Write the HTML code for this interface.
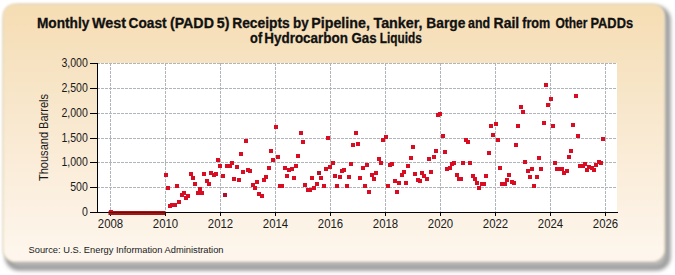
<!DOCTYPE html>
<html><head><meta charset="utf-8"><style>
html,body{margin:0;padding:0;background:#fff;}
body{width:675px;height:275px;overflow:hidden;position:relative;}
svg{position:absolute;left:0;top:0;}
.g{stroke:#b0b5b9;stroke-width:1;stroke-dasharray:3 1;}
.t{stroke:#000;stroke-width:1;}
.tl{font-family:"Liberation Sans",sans-serif;fill:#1a1a1a;}
.ti{font-family:"Liberation Sans",sans-serif;font-weight:bold;fill:#111;}
</style></head><body>
<svg width="675" height="275" viewBox="0 0 675 275">
<defs>
<linearGradient id="bg" x1="0" y1="0" x2="0" y2="1">
<stop offset="0" stop-color="#f5ddb3"/>
<stop offset="0.5" stop-color="#f9e9d2"/>
<stop offset="1" stop-color="#fef7ee"/>
</linearGradient>
<filter id="sh" x="-5%" y="-5%" width="110%" height="110%"><feGaussianBlur stdDeviation="2.3"/></filter>
<filter id="bl" x="-5%" y="-5%" width="110%" height="110%"><feGaussianBlur stdDeviation="1"/></filter>
</defs>
<rect x="7" y="8" width="661.5" height="260.5" rx="12" ry="12" fill="#b8b8b8" stroke="#848484" stroke-width="3.4" filter="url(#sh)"/>
<rect x="3" y="4" width="661.5" height="257.5" rx="12" ry="12" fill="url(#bg)" stroke="#e8dcc0" stroke-width="1.2" filter="url(#bl)"/>
<rect x="98" y="63" width="519" height="150" fill="#fff"/>
<line x1="97" y1="63.5" x2="617" y2="63.5" class="g"/>
<line x1="97" y1="88.5" x2="617" y2="88.5" class="g"/>
<line x1="97" y1="113.5" x2="617" y2="113.5" class="g"/>
<line x1="97" y1="138.5" x2="617" y2="138.5" class="g"/>
<line x1="97" y1="162.5" x2="617" y2="162.5" class="g"/>
<line x1="97" y1="187.5" x2="617" y2="187.5" class="g"/>
<line x1="110.5" y1="63" x2="110.5" y2="212" class="g"/>
<line x1="165.5" y1="63" x2="165.5" y2="212" class="g"/>
<line x1="220.5" y1="63" x2="220.5" y2="212" class="g"/>
<line x1="275.5" y1="63" x2="275.5" y2="212" class="g"/>
<line x1="330.5" y1="63" x2="330.5" y2="212" class="g"/>
<line x1="385.5" y1="63" x2="385.5" y2="212" class="g"/>
<line x1="440.5" y1="63" x2="440.5" y2="212" class="g"/>
<line x1="495.5" y1="63" x2="495.5" y2="212" class="g"/>
<line x1="550.5" y1="63" x2="550.5" y2="212" class="g"/>
<line x1="605.5" y1="63" x2="605.5" y2="212" class="g"/>
<line x1="97.5" y1="63" x2="97.5" y2="213" class="t"/>
<line x1="97" y1="212.5" x2="618" y2="212.5" class="t"/>
<line x1="90" y1="63.5" x2="97" y2="63.5" class="t"/>
<line x1="90" y1="88.5" x2="97" y2="88.5" class="t"/>
<line x1="90" y1="113.5" x2="97" y2="113.5" class="t"/>
<line x1="90" y1="138.5" x2="97" y2="138.5" class="t"/>
<line x1="90" y1="162.5" x2="97" y2="162.5" class="t"/>
<line x1="90" y1="187.5" x2="97" y2="187.5" class="t"/>
<line x1="90" y1="212.5" x2="97" y2="212.5" class="t"/>
<line x1="110.5" y1="212" x2="110.5" y2="216" class="t"/>
<line x1="165.5" y1="212" x2="165.5" y2="216" class="t"/>
<line x1="220.5" y1="212" x2="220.5" y2="216" class="t"/>
<line x1="275.5" y1="212" x2="275.5" y2="216" class="t"/>
<line x1="330.5" y1="212" x2="330.5" y2="216" class="t"/>
<line x1="385.5" y1="212" x2="385.5" y2="216" class="t"/>
<line x1="440.5" y1="212" x2="440.5" y2="216" class="t"/>
<line x1="495.5" y1="212" x2="495.5" y2="216" class="t"/>
<line x1="550.5" y1="212" x2="550.5" y2="216" class="t"/>
<line x1="605.5" y1="212" x2="605.5" y2="216" class="t"/>
<text transform="translate(87.8,66.5) scale(0.88,1)" text-anchor="end" class="tl" font-size="12">3,000</text>
<text transform="translate(87.8,91.5) scale(0.88,1)" text-anchor="end" class="tl" font-size="12">2,500</text>
<text transform="translate(87.8,116.5) scale(0.88,1)" text-anchor="end" class="tl" font-size="12">2,000</text>
<text transform="translate(87.8,141.5) scale(0.88,1)" text-anchor="end" class="tl" font-size="12">1,500</text>
<text transform="translate(87.8,165.5) scale(0.88,1)" text-anchor="end" class="tl" font-size="12">1,000</text>
<text transform="translate(87.8,190.5) scale(0.88,1)" text-anchor="end" class="tl" font-size="12">500</text>
<text transform="translate(87.8,215.5) scale(0.88,1)" text-anchor="end" class="tl" font-size="12">0</text>
<text transform="translate(110.5,228) scale(0.95,1)" text-anchor="middle" class="tl" font-size="12">2008</text>
<text transform="translate(165.5,228) scale(0.95,1)" text-anchor="middle" class="tl" font-size="12">2010</text>
<text transform="translate(220.5,228) scale(0.95,1)" text-anchor="middle" class="tl" font-size="12">2012</text>
<text transform="translate(275.5,228) scale(0.95,1)" text-anchor="middle" class="tl" font-size="12">2014</text>
<text transform="translate(330.5,228) scale(0.95,1)" text-anchor="middle" class="tl" font-size="12">2016</text>
<text transform="translate(385.5,228) scale(0.95,1)" text-anchor="middle" class="tl" font-size="12">2018</text>
<text transform="translate(440.5,228) scale(0.95,1)" text-anchor="middle" class="tl" font-size="12">2020</text>
<text transform="translate(495.5,228) scale(0.95,1)" text-anchor="middle" class="tl" font-size="12">2022</text>
<text transform="translate(550.5,228) scale(0.95,1)" text-anchor="middle" class="tl" font-size="12">2024</text>
<text transform="translate(605.5,228) scale(0.95,1)" text-anchor="middle" class="tl" font-size="12">2026</text>
<text x="36.9" y="28.4" class="ti" font-size="14" stroke="#111" stroke-width="0.3" textLength="52.52" lengthAdjust="spacingAndGlyphs">Monthly</text>
<text x="92.1" y="28.4" class="ti" font-size="14" stroke="#111" stroke-width="0.3" textLength="34.01" lengthAdjust="spacingAndGlyphs">West</text>
<text x="128.6" y="28.4" class="ti" font-size="14" stroke="#111" stroke-width="0.3" textLength="38.01" lengthAdjust="spacingAndGlyphs">Coast</text>
<text x="169.9" y="28.4" class="ti" font-size="14" stroke="#111" stroke-width="0.3" textLength="44.06" lengthAdjust="spacingAndGlyphs">(PADD</text>
<text x="216.8" y="28.4" class="ti" font-size="14" stroke="#111" stroke-width="0.3" textLength="12.66" lengthAdjust="spacingAndGlyphs">5)</text>
<text x="232.2" y="28.4" class="ti" font-size="14" stroke="#111" stroke-width="0.3" textLength="57.54" lengthAdjust="spacingAndGlyphs">Receipts</text>
<text x="293.1" y="28.4" class="ti" font-size="14" stroke="#111" stroke-width="0.3" textLength="15.65" lengthAdjust="spacingAndGlyphs">by</text>
<text x="311.3" y="28.4" class="ti" font-size="14" stroke="#111" stroke-width="0.3" textLength="58.56" lengthAdjust="spacingAndGlyphs">Pipeline,</text>
<text x="373.5" y="28.4" class="ti" font-size="14" stroke="#111" stroke-width="0.3" textLength="49.01" lengthAdjust="spacingAndGlyphs">Tanker,</text>
<text x="426.3" y="28.4" class="ti" font-size="14" stroke="#111" stroke-width="0.3" textLength="39.07" lengthAdjust="spacingAndGlyphs">Barge</text>
<text x="468.0" y="28.4" class="ti" font-size="14" stroke="#111" stroke-width="0.3" textLength="22.02" lengthAdjust="spacingAndGlyphs">and</text>
<text x="493.6" y="28.4" class="ti" font-size="14" stroke="#111" stroke-width="0.3" textLength="25.68" lengthAdjust="spacingAndGlyphs">Rail</text>
<text x="522.2" y="28.4" class="ti" font-size="14" stroke="#111" stroke-width="0.3" textLength="28.07" lengthAdjust="spacingAndGlyphs">from</text>
<text x="555.4" y="28.4" class="ti" font-size="14" stroke="#111" stroke-width="0.3" textLength="32.01" lengthAdjust="spacingAndGlyphs">Other</text>
<text x="590.5" y="28.4" class="ti" font-size="14" stroke="#111" stroke-width="0.3" textLength="42.55" lengthAdjust="spacingAndGlyphs">PADDs</text>
<text x="250.1" y="43" class="ti" font-size="14" stroke="#111" stroke-width="0.3" textLength="12.04" lengthAdjust="spacingAndGlyphs">of</text>
<text x="264.3" y="43" class="ti" font-size="14" stroke="#111" stroke-width="0.3" textLength="83.54" lengthAdjust="spacingAndGlyphs">Hydrocarbon</text>
<text x="351.5" y="43" class="ti" font-size="14" stroke="#111" stroke-width="0.3" textLength="25.02" lengthAdjust="spacingAndGlyphs">Gas</text>
<text x="379.8" y="43" class="ti" font-size="14" stroke="#111" stroke-width="0.3" textLength="42.07" lengthAdjust="spacingAndGlyphs">Liquids</text>
<text transform="translate(48,137.5) rotate(-90)" text-anchor="middle" class="tl" font-size="12" textLength="87" lengthAdjust="spacingAndGlyphs">Thousand Barrels</text>
<text x="28.5" y="253.3" class="tl" font-size="9.6" textLength="195" lengthAdjust="spacingAndGlyphs">Source: U.S. Energy Information Administration</text>
<rect x="108.5" y="211" width="56.8" height="4" fill="#a81414"/>
<line x1="108.5" y1="212.5" x2="165.3" y2="212.5" stroke="#000" stroke-opacity="0.4"/>
<rect x="109" y="210" width="4" height="1.5" fill="#c81020"/>
<g fill="#d80c22" shape-rendering="crispEdges">
<rect x="164" y="173" width="4" height="4"/>
<rect x="166" y="186" width="4" height="4"/>
<rect x="168" y="204" width="4" height="4"/>
<rect x="170" y="203" width="4" height="4"/>
<rect x="173" y="203" width="4" height="4"/>
<rect x="175" y="184" width="4" height="4"/>
<rect x="177" y="200" width="4" height="4"/>
<rect x="180" y="193" width="4" height="4"/>
<rect x="182" y="191" width="4" height="4"/>
<rect x="184" y="196" width="4" height="4"/>
<rect x="186" y="194" width="4" height="4"/>
<rect x="189" y="172" width="4" height="4"/>
<rect x="191" y="176" width="4" height="4"/>
<rect x="193" y="182" width="4" height="4"/>
<rect x="196" y="191" width="4" height="4"/>
<rect x="198" y="187" width="4" height="4"/>
<rect x="200" y="191" width="4" height="4"/>
<rect x="202" y="172" width="4" height="4"/>
<rect x="205" y="179" width="4" height="4"/>
<rect x="207" y="182" width="4" height="4"/>
<rect x="209" y="171" width="4" height="4"/>
<rect x="212" y="173" width="4" height="4"/>
<rect x="214" y="172" width="4" height="4"/>
<rect x="216" y="158" width="4" height="4"/>
<rect x="218" y="164" width="4" height="4"/>
<rect x="221" y="174" width="4" height="4"/>
<rect x="223" y="193" width="4" height="4" fill="#b01028"/>
<rect x="225" y="164" width="4" height="4"/>
<rect x="228" y="164" width="4" height="4"/>
<rect x="230" y="161" width="4" height="4"/>
<rect x="232" y="177" width="4" height="4"/>
<rect x="235" y="165" width="4" height="4"/>
<rect x="237" y="178" width="4" height="4"/>
<rect x="239" y="152" width="4" height="4"/>
<rect x="241" y="170" width="4" height="4"/>
<rect x="244" y="139" width="4" height="4"/>
<rect x="246" y="168" width="4" height="4"/>
<rect x="248" y="169" width="4" height="4"/>
<rect x="251" y="183" width="4" height="4"/>
<rect x="253" y="186" width="4" height="4"/>
<rect x="255" y="180" width="4" height="4"/>
<rect x="257" y="192" width="4" height="4"/>
<rect x="260" y="194" width="4" height="4"/>
<rect x="262" y="178" width="4" height="4"/>
<rect x="264" y="175" width="4" height="4"/>
<rect x="267" y="166" width="4" height="4"/>
<rect x="269" y="149" width="4" height="4"/>
<rect x="271" y="158" width="4" height="4"/>
<rect x="274" y="125" width="4" height="4"/>
<rect x="276" y="155" width="4" height="4"/>
<rect x="278" y="184" width="4" height="4"/>
<rect x="280" y="184" width="4" height="4"/>
<rect x="283" y="166" width="4" height="4"/>
<rect x="285" y="174" width="4" height="4"/>
<rect x="287" y="168" width="4" height="4"/>
<rect x="290" y="167" width="4" height="4"/>
<rect x="292" y="176" width="4" height="4"/>
<rect x="294" y="164" width="4" height="4"/>
<rect x="296" y="154" width="4" height="4"/>
<rect x="299" y="131" width="4" height="4"/>
<rect x="301" y="140" width="4" height="4"/>
<rect x="303" y="183" width="4" height="4"/>
<rect x="306" y="188" width="4" height="4"/>
<rect x="308" y="188" width="4" height="4"/>
<rect x="310" y="176" width="4" height="4"/>
<rect x="312" y="186" width="4" height="4"/>
<rect x="315" y="182" width="4" height="4"/>
<rect x="317" y="171" width="4" height="4" fill="#b01028"/>
<rect x="319" y="176" width="4" height="4"/>
<rect x="322" y="184" width="4" height="4"/>
<rect x="324" y="167" width="4" height="4"/>
<rect x="326" y="136" width="4" height="4"/>
<rect x="328" y="165" width="4" height="4"/>
<rect x="331" y="161" width="4" height="4"/>
<rect x="333" y="174" width="4" height="4"/>
<rect x="335" y="184" width="4" height="4"/>
<rect x="338" y="175" width="4" height="4"/>
<rect x="340" y="169" width="4" height="4"/>
<rect x="342" y="168" width="4" height="4"/>
<rect x="345" y="184" width="4" height="4"/>
<rect x="347" y="175" width="4" height="4"/>
<rect x="349" y="162" width="4" height="4"/>
<rect x="351" y="143" width="4" height="4"/>
<rect x="354" y="131" width="4" height="4"/>
<rect x="356" y="142" width="4" height="4"/>
<rect x="358" y="176" width="4" height="4"/>
<rect x="361" y="166" width="4" height="4"/>
<rect x="363" y="184" width="4" height="4"/>
<rect x="365" y="163" width="4" height="4"/>
<rect x="367" y="190" width="4" height="4"/>
<rect x="370" y="173" width="4" height="4"/>
<rect x="372" y="177" width="4" height="4"/>
<rect x="374" y="171" width="4" height="4"/>
<rect x="377" y="157" width="4" height="4"/>
<rect x="379" y="161" width="4" height="4"/>
<rect x="381" y="138" width="4" height="4"/>
<rect x="384" y="135" width="4" height="4"/>
<rect x="386" y="184" width="4" height="4"/>
<rect x="388" y="163" width="4" height="4"/>
<rect x="390" y="162" width="4" height="4"/>
<rect x="393" y="179" width="4" height="4"/>
<rect x="395" y="190" width="4" height="4"/>
<rect x="397" y="181" width="4" height="4"/>
<rect x="400" y="173" width="4" height="4"/>
<rect x="402" y="170" width="4" height="4"/>
<rect x="404" y="181" width="4" height="4"/>
<rect x="406" y="164" width="4" height="4"/>
<rect x="409" y="156" width="4" height="4"/>
<rect x="411" y="145" width="4" height="4"/>
<rect x="413" y="172" width="4" height="4"/>
<rect x="416" y="178" width="4" height="4"/>
<rect x="418" y="179" width="4" height="4"/>
<rect x="420" y="171" width="4" height="4"/>
<rect x="422" y="174" width="4" height="4"/>
<rect x="425" y="177" width="4" height="4"/>
<rect x="427" y="157" width="4" height="4"/>
<rect x="429" y="170" width="4" height="4"/>
<rect x="432" y="155" width="4" height="4"/>
<rect x="434" y="149" width="4" height="4"/>
<rect x="436" y="113" width="4" height="4"/>
<rect x="438" y="112" width="4" height="4"/>
<rect x="441" y="134" width="4" height="4"/>
<rect x="443" y="150" width="4" height="4"/>
<rect x="445" y="167" width="4" height="4"/>
<rect x="448" y="166" width="4" height="4"/>
<rect x="450" y="162" width="4" height="4"/>
<rect x="452" y="161" width="4" height="4"/>
<rect x="455" y="173" width="4" height="4"/>
<rect x="457" y="177" width="4" height="4"/>
<rect x="459" y="177" width="4" height="4"/>
<rect x="461" y="161" width="4" height="4"/>
<rect x="464" y="138" width="4" height="4"/>
<rect x="466" y="140" width="4" height="4"/>
<rect x="468" y="161" width="4" height="4"/>
<rect x="471" y="174" width="4" height="4"/>
<rect x="473" y="177" width="4" height="4"/>
<rect x="475" y="181" width="4" height="4"/>
<rect x="477" y="186" width="4" height="4"/>
<rect x="480" y="182" width="4" height="4"/>
<rect x="482" y="182" width="4" height="4"/>
<rect x="484" y="174" width="4" height="4"/>
<rect x="487" y="151" width="4" height="4"/>
<rect x="489" y="124" width="4" height="4"/>
<rect x="491" y="133" width="4" height="4"/>
<rect x="494" y="122" width="4" height="4"/>
<rect x="496" y="138" width="4" height="4"/>
<rect x="498" y="166" width="4" height="4"/>
<rect x="500" y="182" width="4" height="4"/>
<rect x="503" y="182" width="4" height="4"/>
<rect x="505" y="178" width="4" height="4"/>
<rect x="507" y="173" width="4" height="4"/>
<rect x="510" y="180" width="4" height="4"/>
<rect x="512" y="181" width="4" height="4"/>
<rect x="514" y="143" width="4" height="4"/>
<rect x="516" y="124" width="4" height="4"/>
<rect x="519" y="105" width="4" height="4"/>
<rect x="521" y="110" width="4" height="4"/>
<rect x="523" y="160" width="4" height="4"/>
<rect x="526" y="169" width="4" height="4"/>
<rect x="528" y="175" width="4" height="4"/>
<rect x="530" y="167" width="4" height="4"/>
<rect x="532" y="184" width="4" height="4"/>
<rect x="535" y="175" width="4" height="4"/>
<rect x="537" y="156" width="4" height="4"/>
<rect x="539" y="167" width="4" height="4"/>
<rect x="542" y="121" width="4" height="4"/>
<rect x="544" y="83" width="4" height="4"/>
<rect x="546" y="103" width="4" height="4"/>
<rect x="549" y="97" width="4" height="4"/>
<rect x="551" y="124" width="4" height="4"/>
<rect x="553" y="161" width="4" height="4"/>
<rect x="555" y="167" width="4" height="4"/>
<rect x="558" y="167" width="4" height="4"/>
<rect x="560" y="167" width="4" height="4"/>
<rect x="562" y="171" width="4" height="4"/>
<rect x="565" y="169" width="4" height="4"/>
<rect x="567" y="155" width="4" height="4"/>
<rect x="569" y="149" width="4" height="4"/>
<rect x="571" y="123" width="4" height="4"/>
<rect x="574" y="94" width="4" height="4"/>
<rect x="576" y="134" width="4" height="4"/>
<rect x="578" y="164" width="4" height="4"/>
<rect x="581" y="164" width="4" height="4"/>
<rect x="583" y="162" width="4" height="4"/>
<rect x="585" y="168" width="4" height="4"/>
<rect x="587" y="165" width="4" height="4"/>
<rect x="590" y="166" width="4" height="4"/>
<rect x="592" y="168" width="4" height="4"/>
<rect x="594" y="163" width="4" height="4"/>
<rect x="597" y="160" width="4" height="4"/>
<rect x="599" y="161" width="4" height="4"/>
<rect x="601" y="137" width="4" height="4"/>
</g>
</svg>
</body></html>
